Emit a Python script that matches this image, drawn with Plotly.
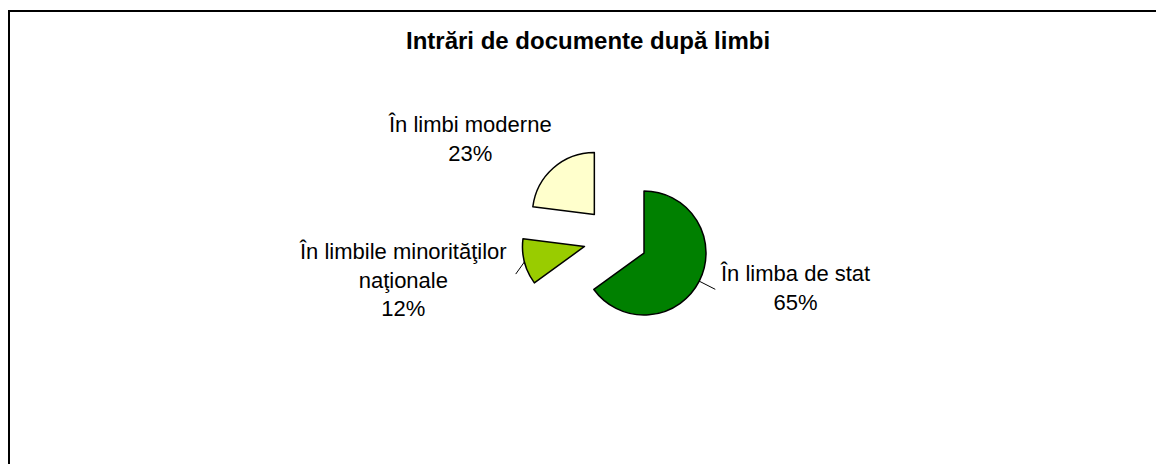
import math
import plotly.graph_objects as go

# ---- data ----
categories = ["În limba de stat", "În limbile minorităţilor naţionale", "În limbi moderne"]
label_lines = ["În limba de stat", "În limbile minorităţilor<br>naţionale", "În limbi moderne"]
percent = [65, 12, 23]
title_text = "Intrări de documente după limbi"

# ---- style / layout ----
W, H = 1156, 464
colors = ["#008000", "#99CC00", "#FFFFCC"]
FONT = "Arial, Liberation Sans, sans-serif"
CX, CY = 615.5, 238.5      # pie centre in px
R = 62                     # slice radius in px
PULL = 0.516               # explode fraction
label_pos = [(795, 288), (403, 280), (470, 139)]   # label centres in px
has_leader = [True, True, False]
leader_turn = [0, -40, 0]  # degrees relative to radial direction
leader_len = [18, 15, 0]

half = R * (1 + PULL)
dom_x = [(CX - half) / W, (CX + half) / W]
dom_y = [1 - (CY + half) / H, 1 - (CY - half) / H]

fig = go.Figure(go.Pie(
    labels=categories,
    values=percent,
    sort=False,
    direction="clockwise",
    rotation=0,
    pull=[PULL] * len(percent),
    marker=dict(colors=colors, line=dict(color="black", width=1.5)),
    textinfo="none",
    hoverinfo="label+percent",
    showlegend=False,
    domain=dict(x=dom_x, y=dom_y),
))

def px2paper(x, y):
    return x / W, 1 - y / H

annotations = []
shapes = []
total = sum(percent)
cum = 0
for i, v in enumerate(percent):
    mid = (cum + v / 2) / total * 2 * math.pi
    cum += v
    ux, uy = math.sin(mid), -math.cos(mid)
    lx, ly = px2paper(*label_pos[i])
    annotations.append(dict(
        x=lx, y=ly, xref="paper", yref="paper", xanchor="center", yanchor="middle",
        text=f"{label_lines[i]}<br>{round(v / total * 100)}%", showarrow=False,
        font=dict(family=FONT, size=22, color="black"), align="center",
    ))
    if has_leader[i]:
        sx = CX + ux * (PULL * R + R)
        sy = CY + uy * (PULL * R + R)
        a = mid + math.radians(leader_turn[i])
        ex = sx + math.sin(a) * leader_len[i]
        ey = sy - math.cos(a) * leader_len[i]
        x0, y0 = px2paper(sx, sy)
        x1, y1 = px2paper(ex, ey)
        shapes.append(dict(type="line", xref="paper", yref="paper",
                           x0=x0, y0=y0, x1=x1, y1=y1,
                           line=dict(color="black", width=1)))

# outer frame (extends beyond right and bottom edge)
fx0, fy0 = px2paper(9, 11)
shapes.append(dict(type="rect", xref="paper", yref="paper",
                   x0=fx0, y0=fy0, x1=1.02, y1=-0.02,
                   line=dict(color="black", width=2), fillcolor="rgba(0,0,0,0)"))

tx, ty = px2paper(588, 40)
annotations.append(dict(
    x=tx, y=ty, xref="paper", yref="paper", xanchor="center", yanchor="middle",
    text=f"<b>{title_text}</b>", showarrow=False,
    font=dict(family=FONT, size=24, color="black"),
))

fig.update_layout(
    width=W, height=H,
    margin=dict(l=0, r=0, t=0, b=0),
    paper_bgcolor="white", plot_bgcolor="white",
    annotations=annotations, shapes=shapes,
)

fig.write_html(
    "out.html",
    config={"displayModeBar": False},
    post_script="document.body.style.margin='0';document.body.style.overflow='hidden';",
)
